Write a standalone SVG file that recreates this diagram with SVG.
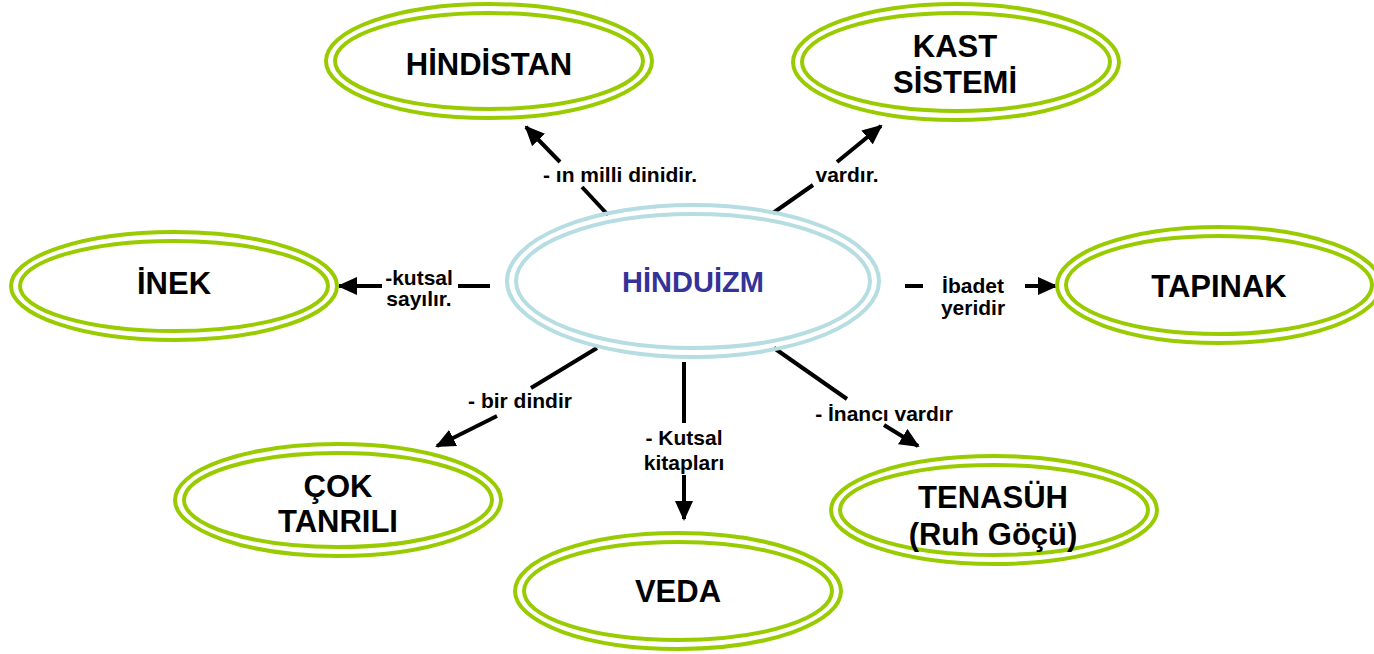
<svg xmlns="http://www.w3.org/2000/svg" width="1374" height="654" viewBox="0 0 1374 654">
<style>
.g{fill:none;stroke:#99cc00;stroke-width:4}
.b{fill:none;stroke:#b5dde2;stroke-width:4}
.t{font-family:"Liberation Sans",Arial,sans-serif;font-weight:bold;font-size:31px;fill:#000;text-anchor:middle}
.c{fill:#333399;font-size:29px}
.l{font-family:"Liberation Sans",Arial,sans-serif;font-weight:bold;font-size:21px;fill:#000;text-anchor:middle}
.k{stroke:#000;stroke-width:4;fill:none}
</style>
<defs>
<marker id="ah" markerWidth="5" markerHeight="4.5" refX="4.5" refY="2.25" orient="auto" markerUnits="strokeWidth">
<path d="M0,0 L5,2.25 L0,4.5 z" fill="#000"/>
</marker>
</defs>
<rect width="1374" height="654" fill="#fff"/>
<g id="connectors">
<line class="k" x1="608" y1="215" x2="582" y2="187"/>
<line class="k" x1="560" y1="162" x2="526" y2="127" marker-end="url(#ah)"/>
<line class="k" x1="773" y1="213" x2="813" y2="185"/>
<line class="k" x1="837" y1="162" x2="881" y2="126" marker-end="url(#ah)"/>
<line class="k" x1="490" y1="286" x2="458" y2="286"/>
<line class="k" x1="382" y1="286" x2="339" y2="286" marker-end="url(#ah)"/>
<line class="k" x1="905" y1="286" x2="923" y2="286"/>
<line class="k" x1="1025" y1="286" x2="1056" y2="286" marker-end="url(#ah)"/>
<line class="k" x1="597" y1="348" x2="531" y2="388"/>
<line class="k" x1="497" y1="416" x2="437" y2="446" marker-end="url(#ah)"/>
<line class="k" x1="684" y1="362" x2="684" y2="423"/>
<line class="k" x1="684" y1="475" x2="684" y2="519" marker-end="url(#ah)"/>
<line class="k" x1="774" y1="348" x2="847" y2="399"/>
<line class="k" x1="884" y1="425" x2="918" y2="446" marker-end="url(#ah)"/>
<text class="l" x="620" y="182">- ın milli dinidir.</text>
<text class="l" x="847" y="182">vardır.</text>
<text class="l" x="419" y="285">-kutsal</text>
<text class="l" x="419" y="306">sayılır.</text>
<text class="l" x="973" y="293">İbadet</text>
<text class="l" x="973" y="315">yeridir</text>
<text class="l" x="520" y="408">- bir dindir</text>
<text class="l" x="684" y="445">- Kutsal</text>
<text class="l" x="684" y="470">kitapları</text>
<text class="l" x="884" y="421">- İnancı vardır</text>
</g>
<g id="hinduizm">
<ellipse class="b" cx="693" cy="281" rx="186" ry="76"/>
<ellipse class="b" cx="693" cy="281" rx="177" ry="67"/>
<text class="t c" x="693" y="292">HİNDUİZM</text>
</g>
<g id="hindistan">
<ellipse class="g" cx="489" cy="61" rx="163" ry="57"/>
<ellipse class="g" cx="489" cy="61" rx="154" ry="48"/>
<text class="t" x="489" y="75">HİNDİSTAN</text>
</g>
<g id="kast">
<ellipse class="g" cx="956" cy="62" rx="163" ry="58"/>
<ellipse class="g" cx="956" cy="62" rx="154" ry="49"/>
<text class="t" x="955" y="57">KAST</text>
<text class="t" x="955" y="93">SİSTEMİ</text>
</g>
<g id="inek">
<ellipse class="g" cx="174" cy="286" rx="163" ry="54"/>
<ellipse class="g" cx="174" cy="286" rx="154" ry="45"/>
<text class="t" x="174" y="294">İNEK</text>
</g>
<g id="tapinak">
<ellipse class="g" cx="1219" cy="285" rx="162" ry="58"/>
<ellipse class="g" cx="1219" cy="285" rx="153" ry="49"/>
<text class="t" x="1219" y="297">TAPINAK</text>
</g>
<g id="cok">
<ellipse class="g" cx="338" cy="500" rx="163" ry="56"/>
<ellipse class="g" cx="338" cy="500" rx="154" ry="47"/>
<text class="t" x="338" y="497">ÇOK</text>
<text class="t" x="338" y="532">TANRILI</text>
</g>
<g id="veda">
<ellipse class="g" cx="678" cy="591" rx="163" ry="58"/>
<ellipse class="g" cx="678" cy="591" rx="154" ry="49"/>
<text class="t" x="678" y="602">VEDA</text>
</g>
<g id="tenasuh">
<ellipse class="g" cx="994" cy="510" rx="163" ry="54"/>
<ellipse class="g" cx="994" cy="510" rx="154" ry="45"/>
<text class="t" x="993" y="508">TENASÜH</text>
<text class="t" x="993" y="545">(Ruh Göçü)</text>
</g>
</svg>
